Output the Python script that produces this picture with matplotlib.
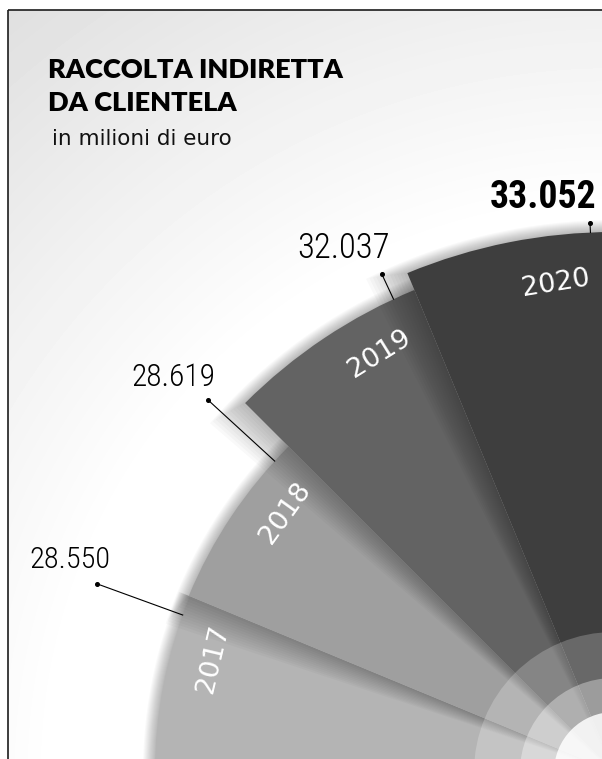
import numpy as np
import matplotlib
matplotlib.use("Agg")
import matplotlib.pyplot as plt
from matplotlib import font_manager as fm

# ---------------- data ----------------
years = ["2017", "2018", "2019", "2020"]
values = [28550, 28619, 32037, 33052]
value_labels = ["28.550", "28.619", "32.037", "33.052"]
bold_label = [False, False, False, True]
colors = ["#b4b4b4", "#9f9f9f", "#636363", "#3e3e3e"]

title_lines = ["RACCOLTA INDIRETTA", "DA CLIENTELA"]
subtitle = "in milioni di euro"

# ---------------- layout ----------------
W, H, DPI = 602, 759, 100
CX, CY = 614, 772            # centre of the rose (pixels, from top-left)
R0 = 3036.0                  # radial value placed at the centre
PX_PER_UNIT = 0.01799        # pixels per radial unit
RPX = 680                    # radius of the polar axes, pixels
SPAN_DEG = 22.5
LABEL_OFFSETS = [(13, 16), (7, 14), (8, 16), (6, 15)]   # pixels from the dot
LABEL_SIZES = [21.9, 22.75, 25, 27.2]
YEAR_INSET = [42, 42, 42, 48]                           # pixels inside the arc

# pick a narrow face for the numbers, if one is installed
names = {f.name for f in fm.fontManager.ttflist}
narrow = None
for cand in ["Liberation Sans Narrow", "Roboto Condensed", "Open Sans Condensed",
             "Noto Sans Condensed", "DejaVu Sans Condensed", "Arial Narrow"]:
    if cand in names:
        narrow = cand
        break
condensed_faces = [f for f in fm.fontManager.ttflist
                   if f.stretch in ("condensed", "semi-condensed", "extra-condensed")
                   or (isinstance(f.stretch, int) and f.stretch < 500)]
if narrow is None and condensed_faces:
    narrow = condensed_faces[0].name
NUM_FAMILY = [narrow, "DejaVu Sans"] if narrow else ["DejaVu Sans"]
NUM_SCALE = 1.0 if narrow else 0.78


def u(px):
    return px / PX_PER_UNIT


fig = plt.figure(figsize=(W / DPI, H / DPI), dpi=DPI)
fig.patch.set_facecolor("white")

# background with radial gradient + frame
bg = fig.add_axes([0, 0, 1, 1])
bg.axis("off")
yy, xx = np.mgrid[0:H, 0:W] + 0.5
d = np.hypot(xx - CX, yy - CY)
g = 255 - np.clip((d - 560) / (980 - 560), 0, 1) * 32
g[(xx < 8) | (yy < 10)] = 255
bg.imshow(g, cmap="gray", vmin=0, vmax=255, extent=(0, W, H, 0),
          interpolation="bilinear", aspect="auto")
bg.plot([8, 8], [10, H], color="#1c1c1c", lw=1.2, solid_capstyle="butt")
bg.plot([8, W], [10, 10], color="#1c1c1c", lw=1.2, solid_capstyle="butt")
bg.set_xlim(0, W)
bg.set_ylim(H, 0)

# polar axes: origin at bottom-right of the axes box
ax = fig.add_axes([(CX - RPX) / W, (H - CY) / H, RPX / W, RPX / H],
                  projection="polar")
ax.set_thetamin(90)
ax.set_thetamax(180)
ax.set_rlim(R0, R0 + u(RPX))
ax.axis("off")

span = np.deg2rad(SPAN_DEG)
N_SH, SH_A, SH_DR, SH_DTH = 12, 0.022, 1.0, np.deg2rad(0.35)

for i, (v, c) in enumerate(zip(values, colors)):
    start = np.deg2rad(180 - SPAN_DEG * (i + 1))
    for k in range(1, N_SH + 1):
        w = span + k * SH_DTH
        ax.bar(start + w / 2, v - R0 + u(k * SH_DR), width=w, bottom=R0,
               color="black", alpha=SH_A, linewidth=0)
    ax.bar(start + span / 2, v - R0, width=span, bottom=R0, color=c,
           linewidth=0)

# inner translucent rings
for rpx, a in [(140, 0.22), (94, 0.35), (60, 0.85)]:
    ax.bar(np.deg2rad(135), u(rpx), width=np.deg2rad(90), bottom=R0,
           color="white", alpha=a, linewidth=0)

# year labels inside wedges
for i, (yr, v) in enumerate(zip(years, values)):
    start = 180 - SPAN_DEG * (i + 1)
    th = np.deg2rad(start + 6.75)
    phi_c = SPAN_DEG * i + SPAN_DEG / 2
    ax.text(th, v - u(YEAR_INSET[i]), yr, rotation=90 - phi_c - 2,
            rotation_mode="anchor", ha="center", va="center", color="white",
            fontsize=19.5, family="DejaVu Sans")

# leader lines, dots and value labels
R_DOT = R0 + u(550)
for i, (v, lab, b) in enumerate(zip(values, value_labels, bold_label)):
    th = np.deg2rad(180 - SPAN_DEG * (i + 1) + 2.5)
    ax.plot([th, th], [v, R_DOT], color="black", lw=0.8)
    ax.plot([th], [R_DOT], "o", ms=2.6, color="black")
    ax.annotate(lab, xy=(th, R_DOT), xytext=LABEL_OFFSETS[i],
                textcoords="offset pixels", ha="right", va="baseline",
                fontsize=LABEL_SIZES[i] * NUM_SCALE,
                fontweight="bold" if b else "light",
                family=NUM_FAMILY, fontstretch="condensed",
                annotation_clip=False)

# titles
fig.text(48 / W, 1 - 78 / H, title_lines[0], fontsize=19.5, fontweight="heavy",
         family=["Lato", "DejaVu Sans"], va="baseline", ha="left")
fig.text(48 / W, 1 - 111 / H, title_lines[1], fontsize=19.5, fontweight="heavy",
         family=["Lato", "DejaVu Sans"], va="baseline", ha="left")
fig.text(52 / W, 1 - 145 / H, subtitle, fontsize=15.5,
         family="DejaVu Sans", va="baseline", ha="left", color="#111111")

fig.savefig("out.png", dpi=DPI)
